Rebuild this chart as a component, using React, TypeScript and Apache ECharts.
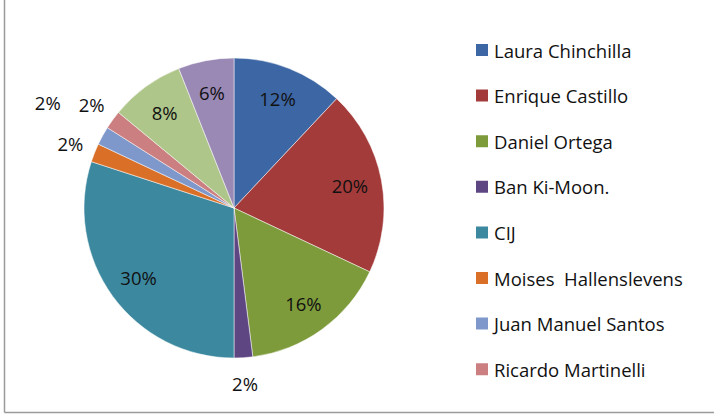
import React, { useEffect, useRef } from "react";
import * as echarts from "echarts";

const names = [
  "Laura Chinchilla",
  "Enrique Castillo",
  "Daniel Ortega",
  "Ban Ki-Moon.",
  "CIJ",
  "Moises  Hallenslevens",
  "Juan Manuel Santos",
  "Ricardo Martinelli",
  "Otros 1",
  "Otros 2",
];
const values = [12, 20, 16, 2, 30, 2, 2, 2, 8, 6];
const legendNames = names.slice(0, 8);
const colors = [
  "#3D66A4",
  "#A33B3A",
  "#7E9B3C",
  "#5E4683",
  "#3C899F",
  "#DA7028",
  "#7F98CB",
  "#CB7F80",
  "#AFC68A",
  "#9A88B5",
];

const FONT = "'Open Sans', sans-serif";
const CENTER = [234, 208];

export default function App() {
  const ref = useRef<HTMLDivElement>(null);
  useEffect(() => {
    if (!ref.current) return;
    const chart = echarts.init(ref.current, undefined, { renderer: "svg" });
    const total = values.reduce((a, b) => a + b, 0);
    const pct = (v: number) => Math.round((v / total) * 100) + "%";
    const mainData = names.map((n, i) => ({
      name: n,
      value: values[i],
      itemStyle: { color: colors[i] },
    }));
    const bigLabels = names.map((n, i) => ({
      name: "in-" + n,
      value: values[i],
      label: { show: values[i] >= 5 },
    }));
    const smallLabels = names.map((n, i) => ({
      name: "out-" + n,
      value: values[i],
      label: {
        show: values[i] < 5,
        offset: i === 6 ? [-32, -21] : [0, 0],
      },
    }));
    const labelStyle = {
      position: "inside" as const,
      color: "#111",
      fontFamily: FONT,
      fontSize: 18.5,
      formatter: (p: any) => pct(p.value),
    };
    chart.setOption({
      animation: false,
      color: colors,
      legend: {
        orient: "vertical",
        left: 474,
        top: 40,
        padding: 0,
        data: legendNames,
        icon: "rect",
        itemWidth: 14,
        itemHeight: 14,
        itemGap: 25.6,
        selectedMode: false,
        textStyle: {
          fontFamily: FONT,
          fontSize: 18.5,
          color: "#111",
          lineHeight: 20,
          padding: [0, 0, 0, 0],
        },
      },
      graphic: [
        {
          type: "line",
          shape: { x1: 4.5, y1: 0, x2: 4.5, y2: 412.5 },
          style: { stroke: "#9a9a9a", lineWidth: 1.5 },
        },
        {
          type: "line",
          shape: { x1: 4.5, y1: 412.5, x2: 714, y2: 412.5 },
          style: { stroke: "#9a9a9a", lineWidth: 1.5 },
        },
      ],
      series: [
        {
          type: "pie",
          center: CENTER,
          radius: [0, 150],
          startAngle: 90,
          clockwise: true,
          data: mainData,
          label: { show: false },
          labelLine: { show: false },
          itemStyle: { borderColor: "#ffffff", borderWidth: 0.5 },
          emphasis: { disabled: true },
        },
        {
          type: "pie",
          center: CENTER,
          radius: [80, 150],
          startAngle: 90,
          clockwise: true,
          silent: true,
          data: bigLabels,
          itemStyle: { color: "rgba(0,0,0,0)" },
          label: labelStyle,
          labelLine: { show: false },
          emphasis: { disabled: true },
        },
        {
          type: "pie",
          center: CENTER,
          radius: [148, 198],
          startAngle: 90,
          clockwise: true,
          silent: true,
          data: smallLabels,
          itemStyle: { color: "rgba(0,0,0,0)" },
          label: labelStyle,
          labelLine: { show: false },
          emphasis: { disabled: true },
        },
      ],
    });
    return () => chart.dispose();
  }, []);
  return (
    <div
      ref={ref}
      style={{
        position: "absolute",
        left: 0,
        top: 0,
        width: 714,
        height: 414,
        background: "#fff",
      }}
    />
  );
}
